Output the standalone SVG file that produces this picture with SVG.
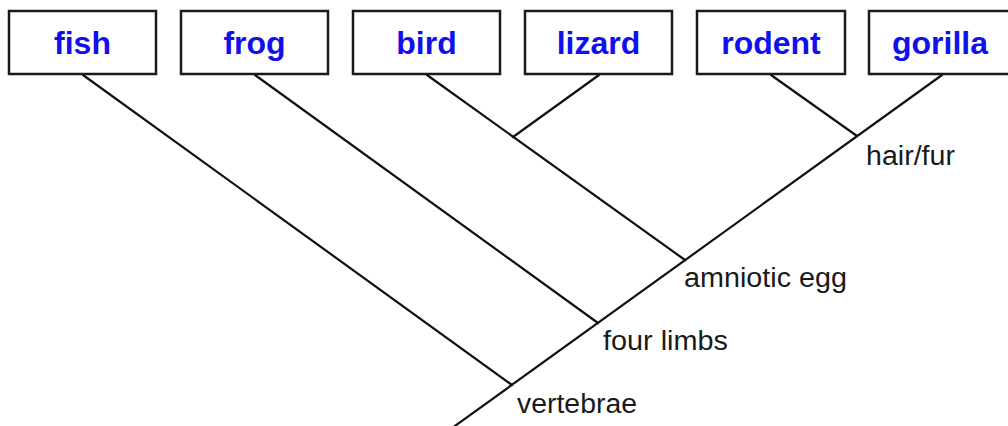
<svg xmlns="http://www.w3.org/2000/svg" width="1008" height="426" viewBox="0 0 1008 426">
<style>
.box{fill:#fff;stroke:#1a1a1a;stroke-width:2.5}
.name{font-family:"Liberation Sans",Arial,sans-serif;font-weight:bold;font-size:32px;fill:#1010ee;text-anchor:middle}
.trait{font-family:"Liberation Sans",Arial,sans-serif;font-size:27px;fill:#1a1a1a}
.edge{stroke:#111;stroke-width:2.2;fill:none;stroke-linecap:round}
</style>
<rect width="1008" height="426" fill="#fff"/>
<g id="connectors">
<line class="edge" x1="441" y1="436" x2="942" y2="75"/>
<line class="edge" x1="83" y1="75" x2="512" y2="385"/>
<line class="edge" x1="255" y1="75" x2="598" y2="323"/>
<line class="edge" x1="427" y1="75" x2="685" y2="260"/>
<line class="edge" x1="599" y1="75" x2="513" y2="137"/>
<line class="edge" x1="771" y1="75" x2="857" y2="136"/>
</g>
<g id="fish"><rect class="box" x="9" y="11" width="147" height="63"/><text class="name" x="82.5" y="54">fish</text></g>
<g id="frog"><rect class="box" x="181" y="11" width="147" height="63"/><text class="name" x="254.5" y="54">frog</text></g>
<g id="bird"><rect class="box" x="353" y="11" width="147" height="63"/><text class="name" x="426.5" y="54">bird</text></g>
<g id="lizard"><rect class="box" x="525" y="11" width="147" height="63"/><text class="name" x="598.5" y="54">lizard</text></g>
<g id="rodent"><rect class="box" x="697" y="11" width="148" height="63"/><text class="name" x="771" y="54">rodent</text></g>
<g id="gorilla"><rect class="box" x="869" y="11" width="147" height="63"/><text class="name" x="940" y="54">gorilla</text></g>
<g id="hair-fur"><text class="trait" x="866" y="165" textLength="89" lengthAdjust="spacingAndGlyphs">hair/fur</text></g>
<g id="amniotic-egg"><text class="trait" x="684" y="287" textLength="163" lengthAdjust="spacingAndGlyphs">amniotic egg</text></g>
<g id="four-limbs"><text class="trait" x="603" y="350" textLength="125" lengthAdjust="spacingAndGlyphs">four limbs</text></g>
<g id="vertebrae"><text class="trait" x="517" y="413" textLength="120" lengthAdjust="spacingAndGlyphs">vertebrae</text></g>
</svg>
